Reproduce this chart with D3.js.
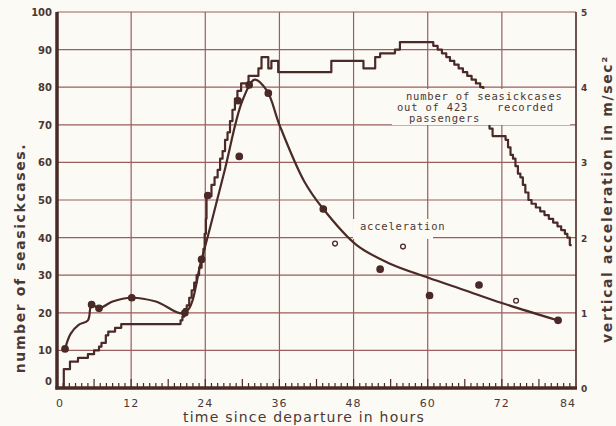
<!DOCTYPE html>
<html>
<head>
<meta charset="utf-8">
<script src="https://cdn.jsdelivr.net/npm/d3@7"></script>
<style>
  body { margin: 0; background: #fcfaf5; }
  svg { display: block; }
</style>
</head>
<body>
<svg id="chart"></svg>
<script>
// chart size
var width = 616;
var height = 426;

// ticks
var hourTicks = [0, 12, 24, 36, 48, 60, 72, 84];
var caseTicks = [0, 10, 20, 30, 40, 50, 60, 70, 80, 90, 100];
var accelTicks = [0, 1, 2, 3, 4, 5];

// number of seasick cases (step curve)
var caseHours = [1.1, 1.1, 2.1, 3.4, 5.0, 6.0, 6.8, 7.2, 7.9, 8.3, 9.4, 10.4,
  20.0, 20.3, 20.6, 21.0, 21.4, 21.8, 22.2, 22.6, 23.0, 23.4, 23.7, 23.9, 24.1, 24.2,
  25.0, 25.5, 26.0, 26.4, 26.8, 27.2, 27.6, 28.0, 28.4, 28.8, 29.2, 29.8, 31.0,
  32.6, 33.1, 34.2, 34.7, 35.8, 44.4, 49.6, 51.5, 52.3, 54.7, 55.5,
  60.9, 61.6, 62.3, 63.0, 63.6, 64.3, 65.0, 65.7, 66.4, 67.1, 67.8, 68.5, 69.0, 69.3, 69.6,
  70.0, 70.5, 72.6, 73.0, 73.4, 73.8, 74.2, 74.6, 75.0, 75.4, 75.8, 76.3, 76.8, 77.5,
  78.2, 78.9, 79.6, 80.3, 81.0, 81.6, 82.2, 82.6, 83.0, 83.3];
var caseCounts = [0, 5, 7, 8, 9, 10, 11, 12, 14, 15, 16, 17,
  18, 19, 21, 22, 24, 26, 28, 30, 32, 34, 37, 41, 45, 51,
  54, 56, 58, 61, 63, 66, 68, 71, 74, 77, 79, 81, 83,
  85, 88, 85, 87, 84, 87, 85, 88, 89, 90, 92,
  91, 90, 89, 88, 87, 86, 85, 84, 83, 82, 81, 80, 78, 75, 72,
  69, 67, 66, 64, 62, 61, 59, 57, 56, 54, 52, 50, 49, 48,
  47, 46, 45, 44, 43, 42, 41, 40, 38, 38];

// smoothed acceleration curve (m/sec2)
var accelCurveHours = [1.3, 2.2, 3.5, 5.0, 5.6, 6.8, 9.0, 12.1, 16.0, 20.7, 23.4, 27.0,
  30.0, 32.0, 34.0, 36.0, 40.0, 43.1, 48.5, 54.0, 60.0, 66.0, 72.0, 81.0];
var accelCurveValues = [0.52, 0.72, 0.84, 0.9, 1.11, 1.06, 1.15, 1.2, 1.15, 1.0, 1.71, 2.85,
  3.82, 4.1, 3.95, 3.5, 2.75, 2.38, 1.9, 1.65, 1.47, 1.3, 1.13, 0.9];

// measured acceleration points
var accelPointHours = [1.3, 5.6, 6.8, 12.1, 20.7, 23.4, 24.4, 29.3, 31.1, 34.2, 29.5,
  43.1, 45.0, 52.3, 56.0, 60.3, 68.3, 74.3, 81.1];
var accelPointValues = [0.52, 1.11, 1.06, 1.2, 1.0, 1.71, 2.56, 3.82, 4.03, 3.92, 3.08,
  2.38, 1.92, 1.58, 1.88, 1.23, 1.37, 1.16, 0.9];
var accelPointOpen = [false, false, false, false, false, false, false, false, false, false, false,
  false, true, false, true, false, false, true, false];

var ink = "#4a2a26";
var gridColor = "#9a5e5c";
var textColor = "#4a3834";

var xScale = d3.scaleLinear().domain([0, 84]).range([57, 576]);
var yScale = d3.scaleLinear().domain([0, 100]).range([388, 12]);
var accelScale = d3.scaleLinear().domain([0, 5]).range([388, 12]);

var svg = d3.select("#chart")
  .attr("width", width)
  .attr("height", height)
  .style("background", "#fcfaf5");

// grid
svg.append("g")
  .selectAll("line")
  .data(caseTicks.slice(1))
  .enter()
  .append("line")
    .attr("x1", xScale(0))
    .attr("x2", xScale(84))
    .attr("y1", d => yScale(d))
    .attr("y2", d => yScale(d))
    .attr("stroke", gridColor)
    .attr("stroke-width", 1.2);

svg.append("g")
  .selectAll("line")
  .data(hourTicks.slice(1))
  .enter()
  .append("line")
    .attr("x1", d => xScale(d))
    .attr("x2", d => xScale(d))
    .attr("y1", yScale(100))
    .attr("y2", yScale(0))
    .attr("stroke", d => d == 84 ? ink : gridColor)
    .attr("stroke-width", d => d == 84 ? 1.6 : 1.2);

// hour ticks on the time axis
var minorHours = d3.range(1, 84);
svg.append("g")
  .selectAll("line")
  .data(minorHours)
  .enter()
  .append("line")
    .attr("x1", d => xScale(d))
    .attr("x2", d => xScale(d))
    .attr("y1", yScale(0))
    .attr("y2", d => yScale(0) - (d % 6 == 0 ? 9 : 5))
    .attr("stroke", ink)
    .attr("stroke-width", 1.2);

// seasick cases
var caseData = caseHours.map((h, i) => [h, caseCounts[i]]);
var stepLine = d3.line()
  .x(d => xScale(d[0]))
  .y(d => yScale(d[1]))
  .curve(d3.curveStepAfter);

svg.append("path")
  .datum(caseData)
  .attr("d", stepLine)
  .attr("fill", "none")
  .attr("stroke", ink)
  .attr("stroke-width", 2.2)
  .attr("stroke-linejoin", "round");

// acceleration curve
var accelData = accelCurveHours.map((h, i) => [h, accelCurveValues[i]]);
var accelLine = d3.line()
  .x(d => xScale(d[0]))
  .y(d => accelScale(d[1]))
  .curve(d3.curveCatmullRom.alpha(0.5));

svg.append("path")
  .datum(accelData)
  .attr("d", accelLine)
  .attr("fill", "none")
  .attr("stroke", ink)
  .attr("stroke-width", 2.2);

// measured points
var pointData = accelPointHours.map((h, i) => ({h: h, a: accelPointValues[i], open: accelPointOpen[i]}));
svg.append("g")
  .selectAll("circle")
  .data(pointData)
  .enter()
  .append("circle")
    .attr("cx", d => xScale(d.h))
    .attr("cy", d => accelScale(d.a))
    .attr("r", d => d.open ? 2.4 : 3.2)
    .attr("fill", d => d.open ? "#fcfaf5" : ink)
    .attr("stroke", ink)
    .attr("stroke-width", 1.3);

// label boxes in the plot
svg.append("rect")
  .attr("x", 392).attr("y", 89)
  .attr("width", 178).attr("height", 36)
  .attr("fill", "#fcfaf5");
svg.append("rect")
  .attr("x", 353).attr("y", 219)
  .attr("width", 80).attr("height", 20)
  .attr("fill", "#fcfaf5");

var labelFont = "'DejaVu Sans Mono', monospace";
var plotLabels = [
  {text: "number of seasickcases", x: 406, y: 100},
  {text: "out of 423", x: 397, y: 111},
  {text: "recorded", x: 497, y: 111},
  {text: "passengers", x: 409, y: 122},
  {text: "acceleration", x: 360, y: 230}
];
svg.append("g")
  .selectAll("text")
  .data(plotLabels)
  .enter()
  .append("text")
    .attr("x", d => d.x)
    .attr("y", d => d.y)
    .style("font-family", labelFont)
    .style("font-size", "10.5px")
    .style("letter-spacing", "0.8px")
    .style("fill", textColor)
    .text(d => d.text);

// axes lines
svg.append("line")
  .attr("x1", xScale(0)).attr("x2", xScale(0))
  .attr("y1", yScale(100)).attr("y2", yScale(0) + 1.5)
  .attr("stroke", ink).attr("stroke-width", 3.5);
svg.append("line")
  .attr("x1", xScale(0) - 1.5).attr("x2", xScale(84) + 1)
  .attr("y1", yScale(0)).attr("y2", yScale(0))
  .attr("stroke", ink).attr("stroke-width", 3.5);

var tickFont = "'DejaVu Sans', sans-serif";

// left tick labels
svg.append("g")
  .selectAll("text")
  .data(caseTicks)
  .enter()
  .append("text")
    .attr("x", 52)
    .attr("y", d => d == 0 ? yScale(d) - 3 : yScale(d) + 4)
    .attr("text-anchor", "end")
    .style("font-family", tickFont)
    .style("font-size", "10px")
    .style("font-weight", "bold")
    .style("fill", textColor)
    .text(d => d);

// right tick labels
svg.append("g")
  .selectAll("text")
  .data(accelTicks)
  .enter()
  .append("text")
    .attr("x", 581)
    .attr("y", d => accelScale(d) + 4)
    .style("font-family", tickFont)
    .style("font-size", "9px")
    .style("font-weight", "bold")
    .style("fill", textColor)
    .text(d => d);

// bottom tick labels
svg.append("g")
  .selectAll("text")
  .data(hourTicks)
  .enter()
  .append("text")
    .attr("x", d => d == 84 ? xScale(d) - 8 : (d == 0 ? xScale(d) + 3 : xScale(d)))
    .attr("y", 407)
    .attr("text-anchor", "middle")
    .style("font-family", tickFont)
    .style("font-size", "11px")
    .style("letter-spacing", "1px")
    .style("fill", textColor)
    .text(d => d);

// axis titles
svg.append("text")
  .attr("x", 304)
  .attr("y", 422)
  .attr("text-anchor", "middle")
  .style("font-family", tickFont)
  .style("font-size", "14px")
  .style("letter-spacing", "1.2px")
  .style("fill", textColor)
  .text("time since departure in hours");

svg.append("text")
  .attr("transform", "translate(25,258) rotate(-90)")
  .attr("text-anchor", "middle")
  .style("font-family", tickFont)
  .style("font-size", "14px")
  .style("font-weight", "bold")
  .style("letter-spacing", "1.6px")
  .style("fill", textColor)
  .text("number of seasickcases.");

svg.append("text")
  .attr("transform", "translate(612,199) rotate(-90)")
  .attr("text-anchor", "middle")
  .style("font-family", tickFont)
  .style("font-size", "14px")
  .style("font-weight", "bold")
  .style("letter-spacing", "1.6px")
  .style("fill", textColor)
  .text("vertical acceleration in m/sec²");
</script>
</body>
</html>
